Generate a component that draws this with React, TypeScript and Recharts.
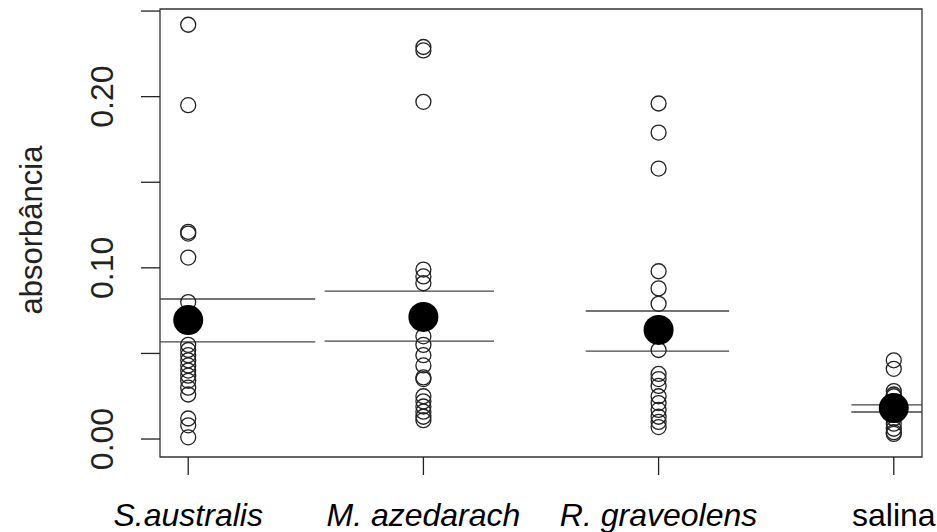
import React from 'react';
import {
  ComposedChart,
  Scatter,
  XAxis,
  YAxis,
  ReferenceLine,
  ReferenceArea,
} from 'recharts';

// categories and per-group absorbance readings
const categories = ['S.australis', 'M. azedarach', 'R. graveolens', 'salina'];
const italicLabel = [true, true, true, false];

const sAustralis = [
  0.242, 0.195, 0.121, 0.12, 0.106, 0.08, 0.055, 0.052, 0.049, 0.046, 0.043,
  0.04, 0.037, 0.034, 0.03, 0.026, 0.012, 0.008, 0.001,
];
const mAzedarach = [
  0.229, 0.227, 0.197, 0.099, 0.095, 0.091, 0.06, 0.055, 0.049, 0.043, 0.036,
  0.035, 0.025, 0.022, 0.019, 0.016, 0.013, 0.011,
];
const rGraveolens = [
  0.196, 0.179, 0.158, 0.098, 0.088, 0.079, 0.052, 0.038, 0.035, 0.031, 0.025,
  0.021, 0.017, 0.013, 0.01, 0.007,
];
const salina = [
  0.046, 0.041, 0.028, 0.026, 0.025, 0.022, 0.019, 0.016, 0.012, 0.009, 0.006,
  0.004, 0.003,
];
const groups = [sAustralis, mAzedarach, rGraveolens, salina];

// group means and the interval lines around them
const means = [0.0695, 0.0713, 0.0637, 0.0181];
const ciUpper = [0.0818, 0.0864, 0.0748, 0.0199];
const ciLower = [0.0567, 0.0572, 0.0514, 0.0158];
const ciFrom = [0.88, 1.58, 2.69, 3.82];
const ciTo = [1.54, 2.3, 3.3, 4.12];

const yTicks = [0, 0.05, 0.1, 0.15, 0.2, 0.25];
const yLabelled = [0, 0.1, 0.2];
const xTicks = [1, 2, 3, 4];

const X_DOMAIN: [number, number] = [0.88, 4.12];
const Y_DOMAIN: [number, number] = [-0.0105, 0.2512];

const FONT = '"Liberation Sans", Arial, sans-serif';
const INK = '#222';

const OpenCircle = (props: any) => (
  <circle cx={props.cx} cy={props.cy} r={7.5} fill="none" stroke={INK} strokeWidth={1.3} />
);

const MeanDot = (props: any) => <circle cx={props.cx} cy={props.cy} r={15} fill="#000" />;

const YTick = (props: any) => {
  const { x, y, payload } = props;
  const v = payload.value;
  if (!yLabelled.some((t) => Math.abs(t - v) < 1e-9)) return null;
  const bx = x - 26;
  return (
    <text
      x={bx}
      y={y}
      transform={`rotate(-90, ${bx}, ${y})`}
      textAnchor="middle"
      fontFamily={FONT}
      fontSize={32}
      fill={INK}
    >
      {v.toFixed(2)}
    </text>
  );
};

const XTick = (props: any) => {
  const { x, y, payload } = props;
  const i = xTicks.indexOf(payload.value);
  if (i < 0) return null;
  return (
    <text
      x={x}
      y={y + 49}
      textAnchor="middle"
      fontFamily={FONT}
      fontSize={32}
      fontStyle={italicLabel[i] ? 'italic' : 'normal'}
      fill="#000"
    >
      {categories[i]}
    </text>
  );
};

export default function App() {
  const pointSets = groups.map((vals, i) => vals.map((v) => ({ x: i + 1, y: v })));
  const meanData = means.map((m, i) => ({ x: i + 1, y: m }));

  return (
    <div style={{ position: 'absolute', left: 0, top: 0, background: '#fff' }}>
      <ComposedChart width={937} height={532} margin={{ top: 9, right: 15, bottom: 0, left: 0 }}>
        <XAxis
          type="number"
          dataKey="x"
          domain={X_DOMAIN}
          allowDataOverflow
          ticks={xTicks}
          tick={<XTick />}
          tickSize={18}
          tickLine={{ stroke: INK, strokeWidth: 1.3 }}
          axisLine={false}
          height={75}
          interval={0}
        />
        <YAxis
          type="number"
          dataKey="y"
          domain={Y_DOMAIN}
          allowDataOverflow
          ticks={yTicks}
          tick={<YTick />}
          tickSize={19}
          tickMargin={2}
          tickLine={{ stroke: INK, strokeWidth: 1.3 }}
          axisLine={false}
          width={160}
          interval={0}
          label={{
            content: () => (
              <text
                x={42}
                y={230}
                transform="rotate(-90, 42, 230)"
                textAnchor="middle"
                fontFamily={FONT}
                fontSize={31}
                fill={INK}
              >
                absorbância
              </text>
            ),
          }}
        />
        <ReferenceArea
          x1={X_DOMAIN[0]}
          x2={X_DOMAIN[1]}
          y1={Y_DOMAIN[0]}
          y2={Y_DOMAIN[1]}
          fill="none"
          stroke="#333"
          strokeWidth={1.3}
          ifOverflow="visible"
        />
        {pointSets.map((d, i) => (
          <Scatter key={categories[i]} data={d} shape={<OpenCircle />} isAnimationActive={false} />
        ))}
        {means.map((_, i) => (
          <ReferenceLine
            key={`u${i}`}
            segment={[
              { x: ciFrom[i], y: ciUpper[i] },
              { x: ciTo[i], y: ciUpper[i] },
            ]}
            stroke="#444"
            strokeWidth={1.3}
            ifOverflow="visible"
          />
        ))}
        {means.map((_, i) => (
          <ReferenceLine
            key={`l${i}`}
            segment={[
              { x: ciFrom[i], y: ciLower[i] },
              { x: ciTo[i], y: ciLower[i] },
            ]}
            stroke="#444"
            strokeWidth={1.3}
            ifOverflow="visible"
          />
        ))}
        <Scatter data={meanData} shape={<MeanDot />} isAnimationActive={false} />
      </ComposedChart>
    </div>
  );
}
